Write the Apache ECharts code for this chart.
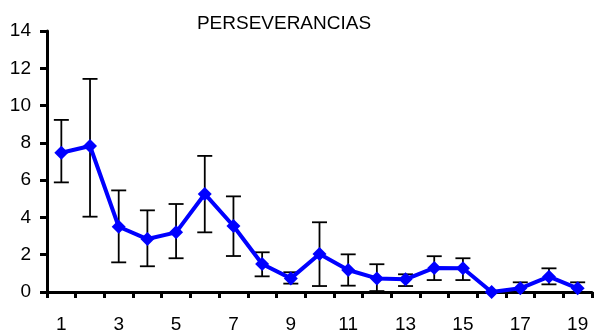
<!DOCTYPE html>
<html>
<head>
<meta charset="utf-8">
<script src="https://cdn.jsdelivr.net/npm/echarts@6/dist/echarts.min.js"></script>
<style>
  html, body { margin: 0; padding: 0; background: #fff; }
  #chart { width: 594px; height: 334px; }
</style>
</head>
<body>
<div id="chart"></div>
<script>
// Session numbers along the x axis
const sessions = ['1','2','3','4','5','6','7','8','9','10','11','12','13','14','15','16','17','18','19'];
// Mean perseverations per session
const means = [7.47, 7.83, 3.50, 2.84, 3.20, 5.26, 3.54, 1.50, 0.73, 2.04, 1.18, 0.73, 0.68, 1.29, 1.27, 0.00, 0.20, 0.82, 0.20];
// Upper and lower ends of the error bars
const errHigh = [9.23, 11.43, 5.45, 4.38, 4.72, 7.30, 5.13, 2.13, 1.06, 3.74, 2.02, 1.49, 0.95, 1.92, 1.81, 0.00, 0.52, 1.27, 0.52];
const errLow  = [5.88, 4.04, 1.59, 1.38, 1.81, 3.20, 1.93, 0.84, 0.45, 0.32, 0.34, 0.05, 0.32, 0.64, 0.64, 0.00, 0.00, 0.41, 0.00];
// Y axis range
const yMin = 0, yMax = 14, yStep = 2;

const errorData = sessions.map((s, i) => [i, errLow[i], errHigh[i]]);

const chart = echarts.init(document.getElementById('chart'));
const font = 'Liberation Sans, Arial, sans-serif';

chart.setOption({
  animation: false,
  title: {
    text: 'PERSEVERANCIAS',
    left: 279, top: 9,
    textAlign: 'center',
    textStyle: { fontFamily: font, fontSize: 19, fontWeight: 'normal', color: '#000' }
  },
  grid: { left: 47, right: 2, top: 31, bottom: 42 },
  xAxis: {
    type: 'category',
    data: sessions,
    boundaryGap: true,
    axisLine: { lineStyle: { color: '#000', width: 3 } },
    axisTick: { show: true, interval: 0, length: 6, lineStyle: { color: '#000', width: 3 } },
    axisLabel: { interval: 1, margin: 23, fontFamily: font, fontSize: 19, color: '#000' },
    splitLine: { show: false }
  },
  yAxis: {
    type: 'value',
    min: yMin, max: yMax, interval: yStep,
    axisLine: { show: true, lineStyle: { color: '#000', width: 3 } },
    axisTick: { show: true, length: 7, lineStyle: { color: '#000', width: 3 } },
    axisLabel: { margin: 16, fontFamily: font, fontSize: 19, color: '#000' },
    splitLine: { show: false }
  },
  series: [
    {
      type: 'custom',
      name: 'error',
      data: errorData,
      z: 2,
      renderItem: function (params, api) {
        const idx = api.value(0);
        const lo = api.coord([idx, api.value(1)]);
        const hi = api.coord([idx, api.value(2)]);
        const half = 7.5;
        const style = { stroke: '#000', lineWidth: 1.8, fill: null };
        return {
          type: 'group',
          children: [
            { type: 'line', shape: { x1: hi[0], y1: hi[1], x2: lo[0], y2: lo[1] }, style: style },
            { type: 'line', shape: { x1: hi[0] - half, y1: hi[1], x2: hi[0] + half, y2: hi[1] }, style: style },
            { type: 'line', shape: { x1: lo[0] - half, y1: lo[1], x2: lo[0] + half, y2: lo[1] }, style: style }
          ]
        };
      }
    },
    {
      type: 'line',
      name: 'media',
      data: means,
      z: 3,
      symbol: 'diamond',
      symbolSize: 14,
      lineStyle: { color: '#0000ff', width: 4 },
      itemStyle: { color: '#0000ff' }
    }
  ]
});
</script>
</body>
</html>
